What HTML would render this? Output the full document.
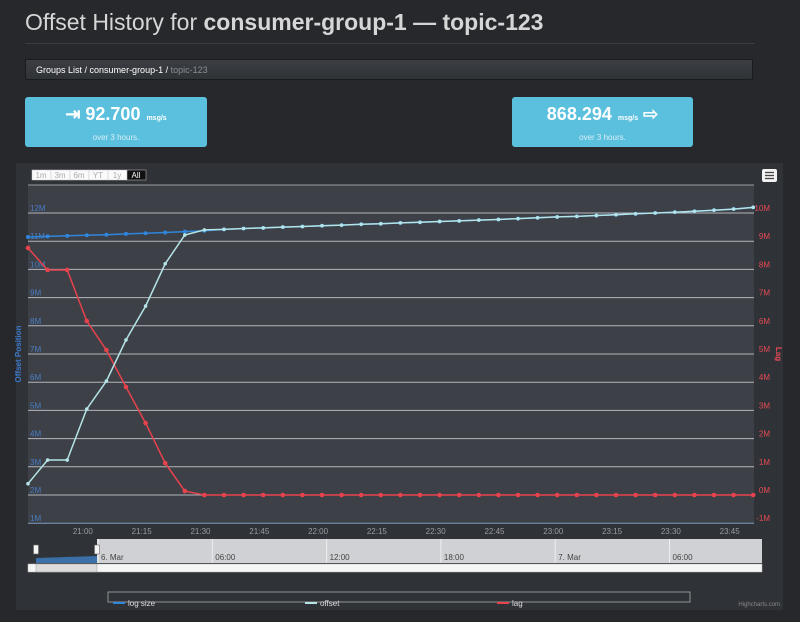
<!DOCTYPE html>
<html><head><meta charset="utf-8"><style>
body{margin:0;width:800px;height:622px;background:#26282c;font-family:"Liberation Sans",sans-serif;overflow:hidden;position:relative}
.t{position:absolute;left:25px;top:9px;font-size:23px;color:#d6d6d6;white-space:nowrap}
.t b{font-weight:bold}
.hr{position:absolute;left:25px;top:43px;width:730px;height:1px;background:#3a3d42}
.bc{position:absolute;left:25px;top:59px;width:728px;height:21px;background:linear-gradient(#3b3e43,#2f3236);border:1px solid #1a1b1d;border-radius:2px;font-size:9px;color:#fff;line-height:21px;padding-left:10px;box-sizing:border-box}
.bc span{color:#8a8d91}
.box{position:absolute;top:97px;height:50px;background:#5bc0de;border-radius:3px;color:#fff;text-align:center}
.box .v{font-size:18px;font-weight:bold;margin-top:7px}
.box .v small{font-size:7px;margin-left:6px}
.box .s{font-size:8px;color:#d8eef6;margin-top:8px}
</style></head><body>
<div class="t">Offset History for <b>consumer-group-1 — topic-123</b></div>
<div class="hr"></div>
<div class="bc"><a>Groups List</a> / <a>consumer-group-1</a> / <span>topic-123</span></div>
<div class="box" style="left:25px;width:182px"><div class="v">⇥ 92.700<small>msg/s</small></div><div class="s">over 3 hours.</div></div>
<div class="box" style="left:512px;width:181px"><div class="v">868.294<small>msg/s</small> ⇨</div><div class="s">over 3 hours.</div></div>
<svg id="c" width="800" height="622" style="position:absolute;left:0;top:0"></svg>
<script>
const times=[];for(let i=0;i<38;i++)times.push(20*60+46+i*5);
const offsetVals=[2.4,3.24,3.24,5.05,6.04,7.5,8.7,10.2,11.22,11.4,11.42,11.45,11.47,11.5,11.52,11.55,11.57,11.6,11.62,11.65,11.67,11.7,11.72,11.75,11.77,11.8,11.83,11.86,11.88,11.91,11.94,11.97,12.0,12.03,12.06,12.1,12.14,12.2];
const logVals=[11.15,11.17,11.19,11.21,11.23,11.26,11.28,11.31,11.34,11.37,11.42,11.45,11.47,11.5,11.52,11.55,11.57,11.6,11.62,11.65,11.67,11.7,11.72,11.75,11.77,11.8,11.83,11.86,11.88,11.91,11.94,11.97,12.0,12.03,12.06,12.1,12.14,12.2];
const lagVals=[8.76,7.98,7.98,6.17,5.14,3.83,2.55,1.13,0.14,0,0,0,0,0,0,0,0,0,0,0,0,0,0,0,0,0,0,0,0,0,0,0,0,0,0,0,0,0];
const leftTicks=[1,2,3,4,5,6,7,8,9,10,11,12];
const rightTicks=[-1,0,1,2,3,4,5,6,7,8,9,10];
const xTicks=[21*60,21*60+15,21*60+30,21*60+45,22*60,22*60+15,22*60+30,22*60+45,23*60,23*60+15,23*60+30,23*60+45];
const navLabels=["6. Mar","06:00","12:00","18:00","7. Mar","06:00"];
const X=t=>28+(t-(20*60+46))*3.92;
const YL=v=>213+(12-v)*28.2;
const YR=v=>YL(v+2);
const svg=document.getElementById('c');const NS='http://www.w3.org/2000/svg';
function el(tag,a,txt){const e=document.createElementNS(NS,tag);for(const k in a)e.setAttribute(k,a[k]);if(txt!=null)e.textContent=txt;svg.appendChild(e);return e;}
let e;
e=el('rect',{x:16,y:163,width:767,height:447,fill:'#2f3237'});


e=el('rect',{x:28,y:185,width:726,height:338,fill:'#3d4047'});


e=el('line',{x1:28,x2:754,y1:185,y2:185,stroke:'#9a9ca0','stroke-width':1});


leftTicks.forEach(v=>{const y=YL(v);
e=el('line',{x1:28,x2:754,y1:y,y2:y,stroke:v==1?'#7f9cc0':'#b4b6ba','stroke-width':1});


e=el('text',{x:30,y:y-2,fill:'#4a7ec4','font-size':8},v+'M');

});
rightTicks.forEach(v=>{
e=el('text',{x:770,y:YR(v)-2,fill:'#e84a55','font-size':8,'text-anchor':'end'},v+'M');

});
xTicks.forEach(t=>{const m=t%60,h=Math.floor(t/60);
e=el('text',{x:X(t),y:534,fill:'#9a9ca0','font-size':8,'text-anchor':'middle'},h+':'+(m<10?'0':'')+m);

});
e=el('text',{x:0,y:0,fill:'#3b78c6','font-size':8,'font-weight':'bold',transform:'translate(21,354) rotate(-90)','text-anchor':'middle'},'Offset Position');


e=el('text',{x:0,y:0,fill:'#e84a55','font-size':8,'font-weight':'bold',transform:'translate(776,354) rotate(90)','text-anchor':'middle'},'Lag');


function series(vals,yf,col,name,r){
const pts=vals.map((v,i)=>X(times[i]).toFixed(1)+','+yf(v).toFixed(1)).join(' ');
e=el('polyline',{points:pts,fill:'none',stroke:col,'stroke-width':1.5});


vals.forEach((v,i)=>{e=el('circle',{cx:X(times[i]),cy:yf(v),r:r,fill:col});

});}
series(logVals,YL,'#2f86dc','log-size',2);
series(lagVals,YR,'#e8424d','lag',2.3);
series(offsetVals,YL,'#b4e4e6','offset',1.8);
const rs=['1m','3m','6m','YT','1y','All'];
rs.forEach((s,i)=>{e=el('rect',{x:32+i*19,y:170,width:19,height:10,fill:i==5?'#111':'#fafafa',stroke:'#ccc','stroke-width':0.5});


e=el('text',{x:41+i*19,y:178,fill:i==5?'#fff':'#aaa','font-size':8,'text-anchor':'middle'},s);

});
e=el('rect',{x:762,y:169,width:15,height:13,fill:'#f2f2f2',rx:2});


[172.5,175.5,178.5].forEach(y=>{e=el('line',{x1:765,x2:774,y1:y,y2:y,stroke:'#444','stroke-width':1.3});

});
e=el('rect',{x:97,y:539,width:665,height:24,fill:'#cfd1d4'});


e=el('polygon',{points:'36,563 36,558 97,556 97,563',fill:'#3a6fa8'});


navLabels.forEach((s,i)=>{const x=98+i*114.3;
e=el('line',{x1:x,x2:x,y1:539,y2:563,stroke:'#eee','stroke-width':1});


e=el('text',{x:x+3,y:560,fill:'#444','font-size':8},s);

});
[36,97].forEach(x=>{e=el('rect',{x:x-2.5,y:545,width:5,height:9,fill:'#f4f4f4',stroke:'#666','stroke-width':0.6});

});
e=el('rect',{x:28,y:564,width:734,height:8,fill:'#f5f5f5',stroke:'#bbb','stroke-width':0.5});


e=el('rect',{x:36,y:564,width:61,height:8,fill:'#dcdcdc',stroke:'#999','stroke-width':0.5});


e=el('rect',{x:108,y:592,width:582,height:10,fill:'none',stroke:'#909295','stroke-width':1});


[['log size','#2f86dc',113],['offset','#b4e4e6',305],['lag','#e8424d',497]].forEach(([n,c,x])=>{
e=el('line',{x1:x,x2:x+12,y1:603,y2:603,stroke:c,'stroke-width':2});


e=el('text',{x:x+15,y:606,fill:'#ddd','font-size':8},n);

});
e=el('text',{x:780,y:606,fill:'#888','font-size':6,'text-anchor':'end'},'Highcharts.com');


</script>
</body></html>
